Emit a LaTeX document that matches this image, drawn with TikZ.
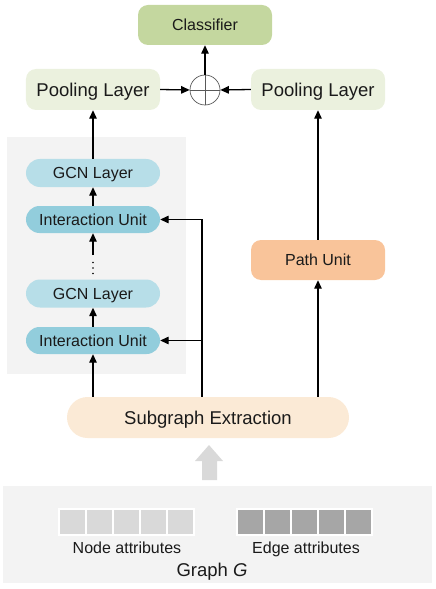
\documentclass[tikz,border=0pt]{standalone}
\usepackage{fontspec}
\setmainfont{Liberation Sans}
\usetikzlibrary{arrows.meta,calc}
\definecolor{clsC}{HTML}{C4D79F}
\definecolor{poolC}{HTML}{EBF1DE}
\definecolor{gcnC}{HTML}{B7DEE8}
\definecolor{iuC}{HTML}{92CDDC}
\definecolor{pathC}{HTML}{F9C49A}
\definecolor{subC}{HTML}{FBEAD6}
\definecolor{panelC}{HTML}{F3F3F3}
\definecolor{nodeAC}{HTML}{D9D9D9}
\definecolor{edgeAC}{HTML}{A6A6A6}
\definecolor{txtC}{HTML}{1A1A1A}
\tikzset{
  box/.style={draw=none, inner sep=0pt, text=txtC, align=center, text depth=0pt},
  big/.style={font=\fontsize{18.5bp}{20bp}\selectfont, text height=13.25bp},
  mid/.style={font=\fontsize{16bp}{18bp}\selectfont, text height=11.46bp},
  small/.style={font=\fontsize{16bp}{18bp}\selectfont, text height=11.46bp},
  arr/.style={line width=1.3bp, -{Triangle[length=8.5bp,width=7.5bp]}},
  cell/.style={draw=white, line width=1.5bp, minimum width=27bp, minimum height=26bp, inner sep=0pt},
}
\begin{document}
\begin{tikzpicture}[x=1bp,y=-1bp]
\useasboundingbox (0,0) rectangle (436,589);
% panels
\fill[panelC] (7,137) rectangle (186,374);
\fill[panelC] (3,486) rectangle (432,583);
% nodes
\node[box, mid, fill=clsC, rounded corners=10bp, minimum width=134bp, minimum height=40bp] (cls) at (205,25) {Classifier};
\node[box, big, fill=poolC, rounded corners=10bp, minimum width=134bp, minimum height=41bp] (poolL) at (93,89.5) {Pooling Layer};
\node[box, big, fill=poolC, rounded corners=10bp, minimum width=134bp, minimum height=41bp] (poolR) at (318,89.5) {Pooling Layer};
\node[circle, draw=black!65, line width=0.7bp, minimum size=30bp, inner sep=0pt] (sum) at (205,90) {};
\draw[black!65, line width=0.7bp] (sum.west) -- (sum.east) (sum.north) -- (sum.south);
\node[box, mid, fill=gcnC, rounded corners=14bp, minimum width=134bp, minimum height=28bp] (gcnA) at (93,173) {GCN Layer};
\node[box, mid, fill=iuC, rounded corners=13.5bp, minimum width=134bp, minimum height=27bp] (iuA) at (93,219.5) {Interaction Unit};
\node[box, mid, fill=gcnC, rounded corners=14bp, minimum width=134bp, minimum height=28bp] (gcnB) at (93,293.5) {GCN Layer};
\node[box, mid, fill=iuC, rounded corners=13.5bp, minimum width=134bp, minimum height=27bp] (iuB) at (93,340.5) {Interaction Unit};
\node[box, mid, fill=pathC, rounded corners=10bp, minimum width=134bp, minimum height=40bp] (pu) at (318,260) {Path Unit};
\coordinate (tap) at (202,219.5);
\coordinate (dtop) at (93,255);
% lines from subgraph (drawn before the box)
\draw[arr] (iuB.south |- 0,410) -- (iuB.south);
\draw[arr] (tap |- 0,410) |- (iuA.east);
\draw[arr] (tap |- iuB.east) -- (iuB.east);
\draw[arr] (pu.south |- 0,410) -- (pu.south);
\node[box, big, fill=subC, rounded corners=20.5bp, minimum width=282bp, minimum height=41bp] (sub) at (208,417.5) {Subgraph Extraction};
% dots
\foreach \yy in {262.5,268,273.5} \fill[black] (93,\yy) circle (0.9bp);
% connectors
\draw[arr] (dtop) -- (iuA.south);
\draw[arr] (iuA.north) -- (gcnA.south);
\draw[arr] (iuB.north) -- (gcnB.south);
\draw[arr] (gcnA.north) -- (poolL.south);
\draw[arr] (pu.north) -- (poolR.south);
\draw[arr] (poolL.east) -- (sum.west);
\draw[arr] (poolR.west) -- (sum.east);
\draw[arr] (sum.north) -- (cls.south);
% big grey arrow
\coordinate (ga) at (209,445);
\fill[nodeAC] (ga) -- (223,461) -- (217,461) -- (217,480) -- (202,480) -- (202,461) -- (195,461) -- cycle;
% attribute cells
\foreach \i in {0,...,4} {
  \node[cell, fill=nodeAC] (na\i) at (72.5+27*\i,522) {};
  \node[cell, fill=edgeAC] (ea\i) at (250.5+27*\i,522) {};
}
\node[box, small] (nal) at (127,548) {Node attributes};
\node[box, small] (eal) at (306,548) {Edge attributes};
\node[box, big] (gl) at (212,569.5) {Graph \textit{G}};
\end{tikzpicture}
\end{document}
